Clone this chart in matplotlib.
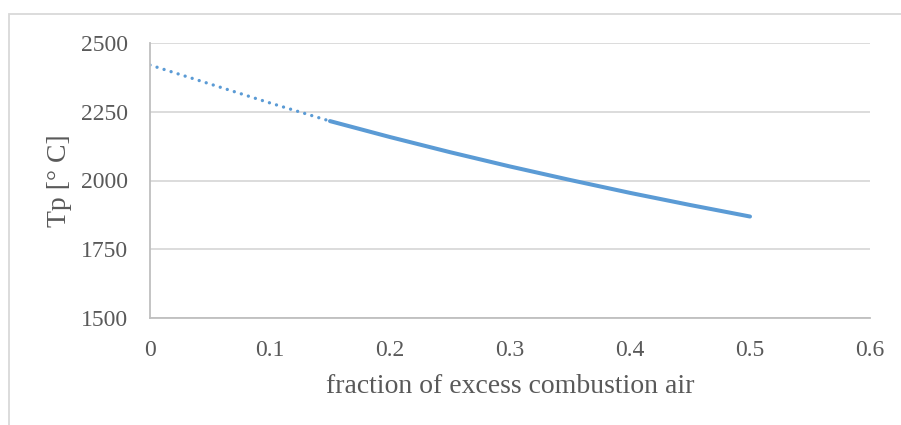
import matplotlib
matplotlib.use('Agg')
import matplotlib.pyplot as plt
from matplotlib.patches import Rectangle

# Данные
x_dotted = [0.0, 0.1, 0.15]
tp_dotted = [2420, 2282, 2216]
x_solid = [0.15, 0.2, 0.25, 0.3, 0.35, 0.4, 0.45, 0.5]
tp_solid = [2216, 2158, 2103, 2051, 2002, 1955, 1911, 1869]
x_ticks = [0, 0.1, 0.2, 0.3, 0.4, 0.5, 0.6]
x_ticklabels = ['0', '0.1', '0.2', '0.3', '0.4', '0.5', '0.6']
y_ticks = [1500, 1750, 2000, 2250, 2500]

plt.rcParams['font.family'] = ['Liberation Serif', 'DejaVu Serif']
text_color = '#595959'
line_color = '#5B9BD5'

fig = plt.figure(figsize=(9.01, 4.25), dpi=100)
ax = fig.add_axes([150 / 901, 1 - 318 / 425, 720 / 901, 275 / 425])

# Рамка вокруг диаграммы (видны только верх и левая сторона)
fig.patches.append(Rectangle((9 / 901, -0.1), 1.2, 1 - 14 / 425 + 0.1,
                             transform=fig.transFigure, fill=False,
                             edgecolor='#D9D9D9', linewidth=1.3))

ax.plot(x_dotted, tp_dotted, color=line_color, linewidth=2.4,
        linestyle=(0, (0.01, 2.2)), dash_capstyle='round')
ax.plot(x_solid, tp_solid, color=line_color, linewidth=2.9,
        solid_capstyle='round')

ax.set_xlim(0, 0.6)
ax.set_ylim(1500, 2500)
ax.set_xticks(x_ticks)
ax.set_xticklabels(x_ticklabels)
ax.set_yticks(y_ticks)
ax.grid(axis='y', color='#D9D9D9', linewidth=1.3)
ax.set_axisbelow(True)

for side in ['top', 'right']:
    ax.spines[side].set_visible(False)
for side in ['left', 'bottom']:
    ax.spines[side].set_color('#BFBFBF')
    ax.spines[side].set_linewidth(1.3)

ax.tick_params(axis='both', length=0, labelsize=17, colors=text_color)
ax.tick_params(axis='y', pad=16)
ax.tick_params(axis='x', pad=16)

ax.set_xlabel('fraction of excess combustion air', fontsize=20,
              color=text_color, labelpad=9)
ax.set_ylabel('Tp [° C]', fontsize=20, color=text_color, labelpad=6)

fig.savefig('out.png', dpi=100)
